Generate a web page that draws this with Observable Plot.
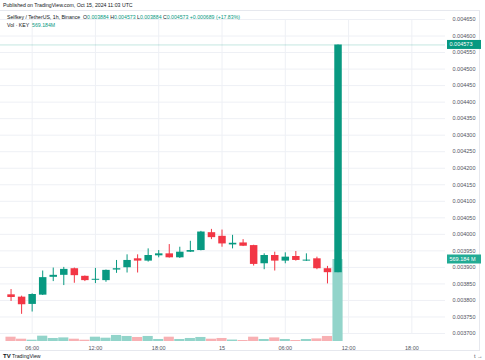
<!DOCTYPE html>
<html><head><meta charset="utf-8">
<script src="https://cdn.jsdelivr.net/npm/d3@7"></script>
<script src="https://cdn.jsdelivr.net/npm/@observablehq/plot@0.6"></script>
<style>
html,body{margin:0;padding:0;background:#fff;}
#wrap{position:relative;width:485px;height:360px;overflow:hidden;font-family:"Liberation Sans",Arial,sans-serif;}
#wrap svg{position:absolute;left:0;top:0;}
#frame{position:absolute;left:-1px;top:10px;width:481px;height:341px;border:1px solid #e6e8ee;box-sizing:border-box;}
.hdr{position:absolute;white-space:nowrap;font-size:5.2px;line-height:6px;color:#131722;}
.up{color:#089981;}
</style></head>
<body><div id="wrap"><div id="frame"></div></div>
<script>
const times = ["2024-10-14T04:00Z","2024-10-14T05:00Z","2024-10-14T06:00Z","2024-10-14T07:00Z","2024-10-14T08:00Z","2024-10-14T09:00Z","2024-10-14T10:00Z","2024-10-14T11:00Z","2024-10-14T12:00Z","2024-10-14T13:00Z","2024-10-14T14:00Z","2024-10-14T15:00Z","2024-10-14T16:00Z","2024-10-14T17:00Z","2024-10-14T18:00Z","2024-10-14T19:00Z","2024-10-14T20:00Z","2024-10-14T21:00Z","2024-10-14T22:00Z","2024-10-14T23:00Z","2024-10-15T00:00Z","2024-10-15T01:00Z","2024-10-15T02:00Z","2024-10-15T03:00Z","2024-10-15T04:00Z","2024-10-15T05:00Z","2024-10-15T06:00Z","2024-10-15T07:00Z","2024-10-15T08:00Z","2024-10-15T09:00Z","2024-10-15T10:00Z","2024-10-15T11:00Z"];
const opens  = [0.003817,0.003810,0.003788,0.003816,0.003870,0.003876,0.003896,0.003873,0.003861,0.003860,0.003892,0.003899,0.003926,0.003919,0.003935,0.003941,0.003929,0.003946,0.003951,0.004005,0.003994,0.003968,0.003974,0.003966,0.003911,0.003936,0.003919,0.003933,0.003919,0.003926,0.003896,0.003884];
const highs  = [0.003833,0.003813,0.003820,0.003889,0.003898,0.003900,0.003898,0.003874,0.003897,0.003892,0.003921,0.003938,0.003938,0.003956,0.003951,0.003969,0.003961,0.003979,0.004009,0.004015,0.004013,0.003997,0.003984,0.003967,0.003941,0.003946,0.003944,0.003948,0.003941,0.003931,0.003903,0.004573];
const lows   = [0.003797,0.003758,0.003765,0.003815,0.003857,0.003845,0.003852,0.003857,0.003851,0.003855,0.003882,0.003883,0.003883,0.003916,0.003929,0.003928,0.003927,0.003945,0.003950,0.003984,0.003961,0.003956,0.003963,0.003904,0.003893,0.003889,0.003911,0.003919,0.003918,0.003893,0.003850,0.003884];
const closes = [0.003809,0.003787,0.003818,0.003869,0.003876,0.003894,0.003875,0.003860,0.003864,0.003891,0.003896,0.003921,0.003919,0.003936,0.003941,0.003929,0.003946,0.003951,0.004007,0.003990,0.003971,0.003973,0.003964,0.003909,0.003936,0.003919,0.003931,0.003921,0.003922,0.003896,0.003884,0.004573];
const volumes = [30,16,9,37,21,25,16,9,30,23,42,35,28,35,14,30,14,21,28,16,21,10,7,30,14,25,14,7,14,18,35,569.184];
const priceTicks = [0.0037,0.00375,0.0038,0.00385,0.0039,0.00395,0.004,0.00405,0.0041,0.00415,0.0042,0.00425,0.0043,0.00435,0.0044,0.00445,0.0045,0.00455,0.0046,0.00465];
const timeTicks = ["2024-10-14T06:00Z","2024-10-14T12:00Z","2024-10-14T18:00Z","2024-10-15T00:00Z","2024-10-15T06:00Z","2024-10-15T12:00Z","2024-10-15T18:00Z"];
const timeLabels = ["06:00","12:00","18:00","15","06:00","12:00","18:00"];
const changeText = "+0.000689 (+17.83%)";

const UP = "#089981", DN = "#f23645", VUP = "#92d4ca", VDN = "#f8b0b3";
const data = times.map((t,i)=>({t:new Date(t), o:opens[i], h:highs[i], l:lows[i], c:closes[i], v:volumes[i]}));
const tTicks = timeTicks.map(d=>new Date(d));
const last = data[data.length-1];
const col = d => d.c >= d.o ? UP : DN;
const xOpt = {type:"utc", domain:[new Date("2024-10-14T03:00Z"), new Date("2024-10-15T21:00Z")], range:[0,443], axis:null};
const yOpt = {domain:[0.0037,0.00465], range:[333,19], axis:null};
const base = {width:485, height:360, marginLeft:0, marginRight:40, marginTop:10, marginBottom:19,
  style:{background:"transparent", fontFamily:"'Liberation Sans',Arial,sans-serif", fontSize:"5.5px", overflow:"visible"}};

const wrap = document.getElementById("wrap");

const grid = Plot.plot({...base, x:xOpt, y:yOpt, marks:[
  Plot.gridY(priceTicks,{stroke:"#eef0f5", strokeOpacity:1}),
  Plot.gridX(tTicks,{stroke:"#eef0f5", strokeOpacity:1, y1:0.0037, y2:0.00465})
]});
wrap.appendChild(grid);

const vol = Plot.plot({...base, x:xOpt, y:{domain:[0,569.184], range:[341,259], axis:null}, marks:[
  Plot.rect(data,{x1:d=>new Date(+d.t-30*60000), x2:d=>new Date(+d.t+30*60000), y1:0, y2:"v", fill:d=>d.c>=d.o?VUP:VDN, insetLeft:0.2, insetRight:0.2})
]});
wrap.appendChild(vol);

const price = Plot.plot({...base, x:xOpt, y:yOpt, marks:[
  Plot.axisY(priceTicks,{anchor:"right", tickSize:0, tickPadding:7, tickFormat:d3.format(".6f"), fill:"#50535e"}),
  Plot.axisX(tTicks,{anchor:"bottom", tickSize:0, tickPadding:5, tickFormat:(d,i)=>timeLabels[i], fill:"#50535e"}),
  Plot.ruleY([last.c],{stroke:UP, strokeOpacity:0.3, strokeWidth:0.8}),
  Plot.ruleX(data,{x:"t", y1:"l", y2:"h", stroke:col, strokeWidth:1}),
  Plot.ruleX(data,{x:"t", y1:"o", y2:"c", stroke:col, strokeWidth:7.5})
]});
wrap.appendChild(price);

// value labels on the price axis, positioned through the plots' scales
const svg = d3.select(price);
function tag(yPix, text, fill){
  const g = svg.append("g");
  g.append("rect").attr("x",447).attr("y",yPix-4.5).attr("width",34).attr("height",9).attr("fill",fill);
  g.append("text").attr("x",449.5).attr("y",yPix).attr("dy","0.34em").attr("fill","#fff")
   .attr("text-anchor","start").attr("font-size","5.5px").text(text);
}
tag(price.scale("y").apply(last.c), d3.format(".6f")(last.c), UP);
tag(vol.scale("y").apply(last.v), d3.format(".3f")(last.v)+" M", "#22ab94");

// header texts
const f6 = d3.format(".6f");
function addHdr(html, left, top){ const d=document.createElement("div"); d.className="hdr"; d.style.left=left+"px"; d.style.top=top+"px"; d.innerHTML=html; wrap.appendChild(d); }
addHdr("Published on TradingView.com, Oct 15, 2024 11:03 UTC", 3, 2);
addHdr(`Selfkey / TetherUS, 1h, Binance&nbsp; O<span class="up">${f6(last.o)}</span> H<span class="up">${f6(last.h)}</span> L<span class="up">${f6(last.l)}</span> C<span class="up">${f6(last.c)}</span> <span class="up">${changeText}</span>`, 7, 14);
addHdr(`Vol · KEY&nbsp; <span class="up">${d3.format(".3f")(last.v)}M</span>`, 7, 21.5);
addHdr(`<b style="font-size:6px">TV</b> TradingView`, 3, 353);
</script></body></html>
